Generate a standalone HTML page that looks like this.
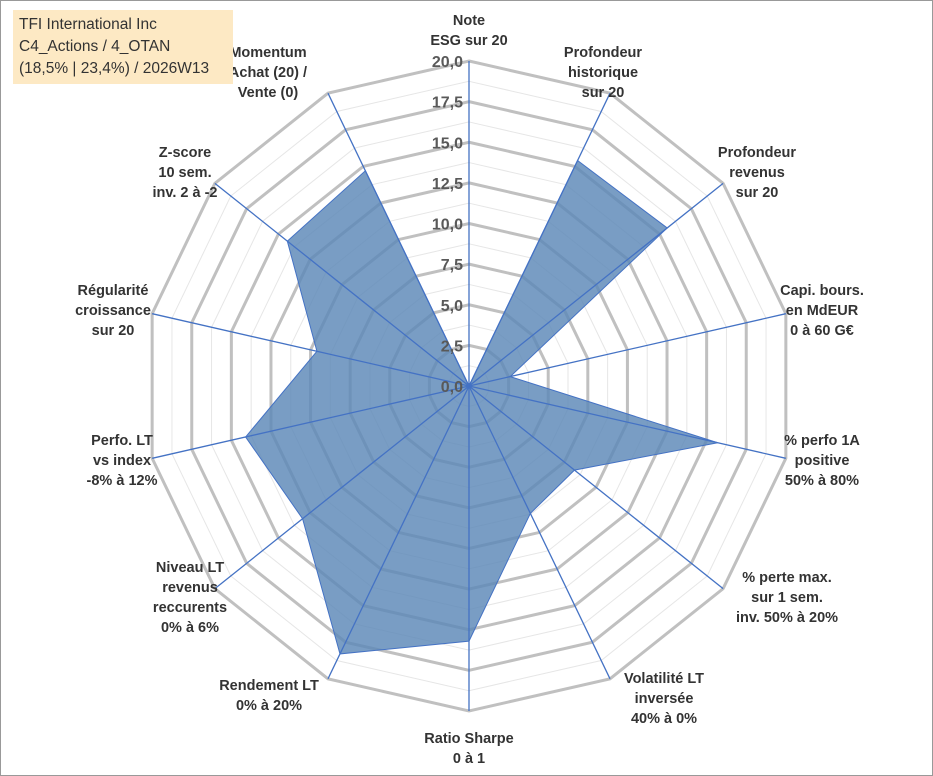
<!DOCTYPE html>
<html><head><meta charset="utf-8">
<style>
body{margin:0;background:#fff;}
#wrap{position:relative;width:933px;height:776px;overflow:hidden;}
svg{position:absolute;left:0;top:0;}
#title{position:absolute;left:13px;top:10px;width:220px;height:74px;background:#fde9c4;font-family:"Liberation Sans",sans-serif;font-size:15.5px;line-height:22px;color:#333;padding:4px 0 0 6px;box-sizing:border-box;white-space:nowrap;}
</style></head>
<body>
<div id="wrap">
<svg id="chart" width="933" height="776"></svg>
<div id="title">TFI International Inc<br>C4_Actions / 4_OTAN<br>(18,5% | 23,4%) / 2026W13</div>
</div>
<script>
const categories=[["Note","ESG sur 20"],["Profondeur","historique","sur 20"],["Profondeur","revenus","sur 20"],["Capi. bours.","en MdEUR","0 à 60 G€"],["% perfo 1A","positive","50% à 80%"],["% perte max.","sur 1 sem.","inv. 50% à 20%"],["Volatilité LT","inversée","40% à 0%"],["Ratio Sharpe","0 à 1"],["Rendement LT","0% à 20%"],["Niveau LT","revenus","reccurents","0% à 6%"],["Perfo. LT","vs index","-8% à 12%"],["Régularité","croissance","sur 20"],["Z-score","10 sem.","inv. 2 à -2"],["Momentum","Achat (20) /","Vente (0)"]];
const values=[0,15.4,15.6,2.6,15.7,8.3,8.7,15.7,18.3,13.1,14.1,9.6,14.3,14.7];
const ticks=["0,0","2,5","5,0","7,5","10,0","12,5","15,0","17,5","20,0"];
const labelPos=[[469,30],[603,72],[757,172],[822,310],[822,460],[787,597],[664,698],[469,748],[269,695],[190,597],[122,460],[113,310],[185,172],[268,72]];
const NS="http://www.w3.org/2000/svg";
const svg=document.getElementById('chart');
const cx=469,cy=386,R=325,maxV=20,n=categories.length;
function ang(i){return i*2*Math.PI/n;}
function pt(i,v){const r=v/maxV*R;return [cx+r*Math.sin(ang(i)),cy-r*Math.cos(ang(i))];}
function mk(t,a){const e=document.createElementNS(NS,t);for(const k in a)e.setAttribute(k,a[k]);svg.appendChild(e);return e;}
const border=mk('rect',{x:0.5,y:0.5,width:932,height:775,fill:'#fff',stroke:'#999'});


for(let k=1;k<=16;k++){const v=k*1.25;const p=[];for(let i=0;i<n;i++)p.push(pt(i,v).join(','));
const g=mk('polygon',{points:p.join(' '),fill:'none',stroke:k%2?'#e6e6e6':'#c0c0c0','stroke-width':k%2?1:3});

}
const dp=values.map((v,i)=>pt(i,v).join(',')).join(' ');
const area=mk('polygon',{points:dp,fill:'#5b87b7','fill-opacity':0.82,stroke:'#4472c4','stroke-width':1});


for(let i=0;i<n;i++){const e=pt(i,maxV);const l=mk('line',{x1:cx,y1:cy,x2:e[0],y2:e[1],stroke:'#4472c4','stroke-width':1.3});

}
ticks.forEach((t,k)=>{const v=k*2.5;const y=cy-v/maxV*R;const tx=mk('text',{x:cx-6,y:y+6,'text-anchor':'end','font-family':'Liberation Sans, sans-serif','font-size':16,'font-weight':'bold',fill:'#595959'});tx.textContent=t;

});
categories.forEach((c,i)=>{const [x,y]=labelPos[i];const h=c.length*20;const tx=mk('text',{x:x,y:y-h/2+15,'text-anchor':'middle','font-family':'Liberation Sans, sans-serif','font-size':14.5,'font-weight':'bold',fill:'#333'});


c.forEach((s,j)=>{const ts=document.createElementNS(NS,'tspan');ts.setAttribute('x',x);ts.setAttribute('dy',j?20:0);ts.textContent=s;tx.appendChild(ts);});});
</script>
</body></html>
